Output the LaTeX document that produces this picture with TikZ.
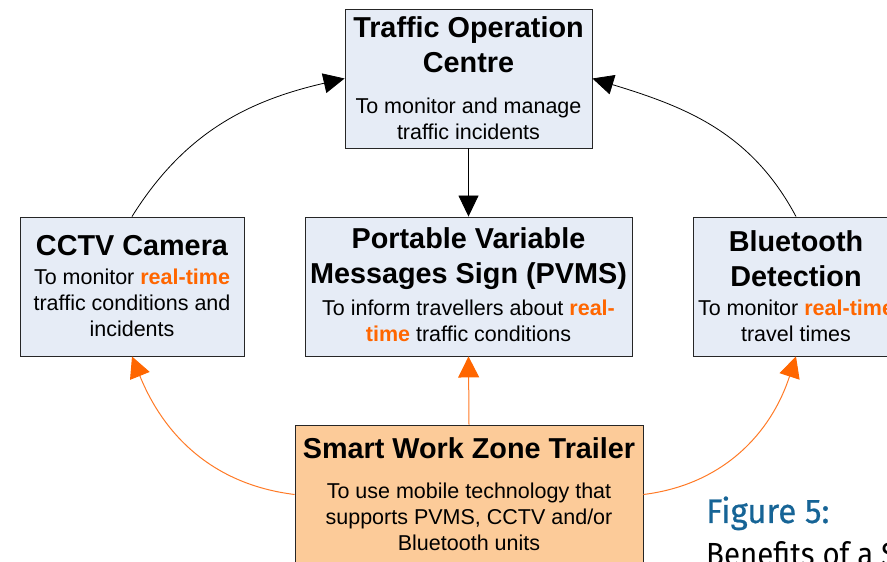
\documentclass[tikz,border=0pt]{standalone}
\usepackage{fontspec}
\setmainfont{Liberation Sans}
\newfontfamily\captionfont{Fira Sans}
\usetikzlibrary{arrows.meta,shadows}

\definecolor{boxblue}{RGB}{230,236,246}
\definecolor{boxpeach}{RGB}{252,203,153}
\definecolor{hiorange}{RGB}{255,102,0}
\definecolor{linkorange}{RGB}{255,122,38}
\definecolor{captionblue}{RGB}{22,100,150}

\newcommand{\rt}[1]{\textcolor{hiorange}{\bfseries #1}}

\tikzset{
  unit/.style={draw=black!85, line width=0.9pt, inner sep=0pt,
    minimum height=139pt,
    drop shadow={shadow xshift=1pt, shadow yshift=-1.5pt, fill=black!55, opacity=1}},
  bluebox/.style={unit, fill=boxblue},
  peachbox/.style={unit, fill=boxpeach},
  headtext/.style={align=center, inner sep=0pt,
    font=\fontsize{28.8}{35}\selectfont\bfseries},
  bodytext/.style={align=center, inner sep=0pt,
    font=\fontsize{21.5}{26}\selectfont},
  feed/.style={line width=0.8pt, black,
    -{Triangle[length=21pt, width=20pt]}},
  supply/.style={line width=1pt, linkorange,
    -{Triangle[length=21pt, width=21pt, fill=hiorange, color=hiorange]}},
}

\begin{document}
\begin{tikzpicture}[x=1pt, y=1pt]
  \useasboundingbox (0,0) rectangle (887,562);
  \clip (0,0) rectangle (887,562);

  % boxes
  \node[bluebox, minimum width=247pt] (toc) at (468.5,483.5) {};
  \node[bluebox, minimum width=224pt] (cctv) at (132,275.5) {};
  \node[bluebox, minimum width=327pt] (pvms) at (468.5,275.5) {};
  \node[bluebox, minimum width=206pt] (bt) at (796,275.5) {};
  \node[peachbox, minimum width=348pt] (swz) at (469,67.5) {};

  % box texts
  \node[headtext] (tocH) at (468.5,517) {Traffic Operation\\Centre};
  \node[bodytext] (tocB) at (468.5,443) {To monitor and manage\\traffic incidents};

  \node[headtext] (cctvH) at (132,316) {CCTV Camera};
  \node[bodytext] (cctvB) at (132,259) {To monitor \rt{real-time}\\traffic conditions and\\incidents};

  \node[headtext] (pvmsH) at (468.5,303) {Portable Variable\\Messages Sign (PVMS)};
  \node[bodytext] (pvmsB) at (468.5,241) {To inform travellers about \rt{real-}\\\rt{time} traffic conditions};

  \node[headtext] (btH) at (796,303) {Bluetooth\\Detection};
  \node[bodytext] (btB) at (796,241) {To monitor \rt{real-time}\\travel times};

  \node[headtext] (swzH) at (469,114) {Smart Work Zone Trailer};
  \node[bodytext] (swzB) at (469,45) {To use mobile technology that\\supports PVMS, CCTV and/or\\Bluetooth units};

  % reporting links towards the operation centre
  \draw[feed] (toc.south) -- (pvms.north);
  \draw[feed] (cctv.north) to[out=58, in=193] (toc.west);
  \draw[feed] (bt.north) to[out=118, in=-17] (toc.east);

  % trailer supplying the field devices
  \draw[supply] (swz.north) -- (pvms.south);
  \draw[supply] (swz.west) to[out=173, in=-68] (cctv.south);
  \draw[supply] (swz.east) to[out=7, in=-108] (bt.south);

  % caption
  \node[anchor=base west, inner sep=0pt, text=captionblue,
        font=\captionfont\fontsize{34}{40}\selectfont\addfontfeatures{FakeBold=0.6}, xscale=0.97] (figno) at (706,39) {Figure 5:};
  \node[anchor=base west, inner sep=0pt, text=black,
        font=\captionfont\fontsize{32}{38}\selectfont, xscale=0.92] (figtitle) at (706,-4) {Benefits of a S};
\end{tikzpicture}
\end{document}
